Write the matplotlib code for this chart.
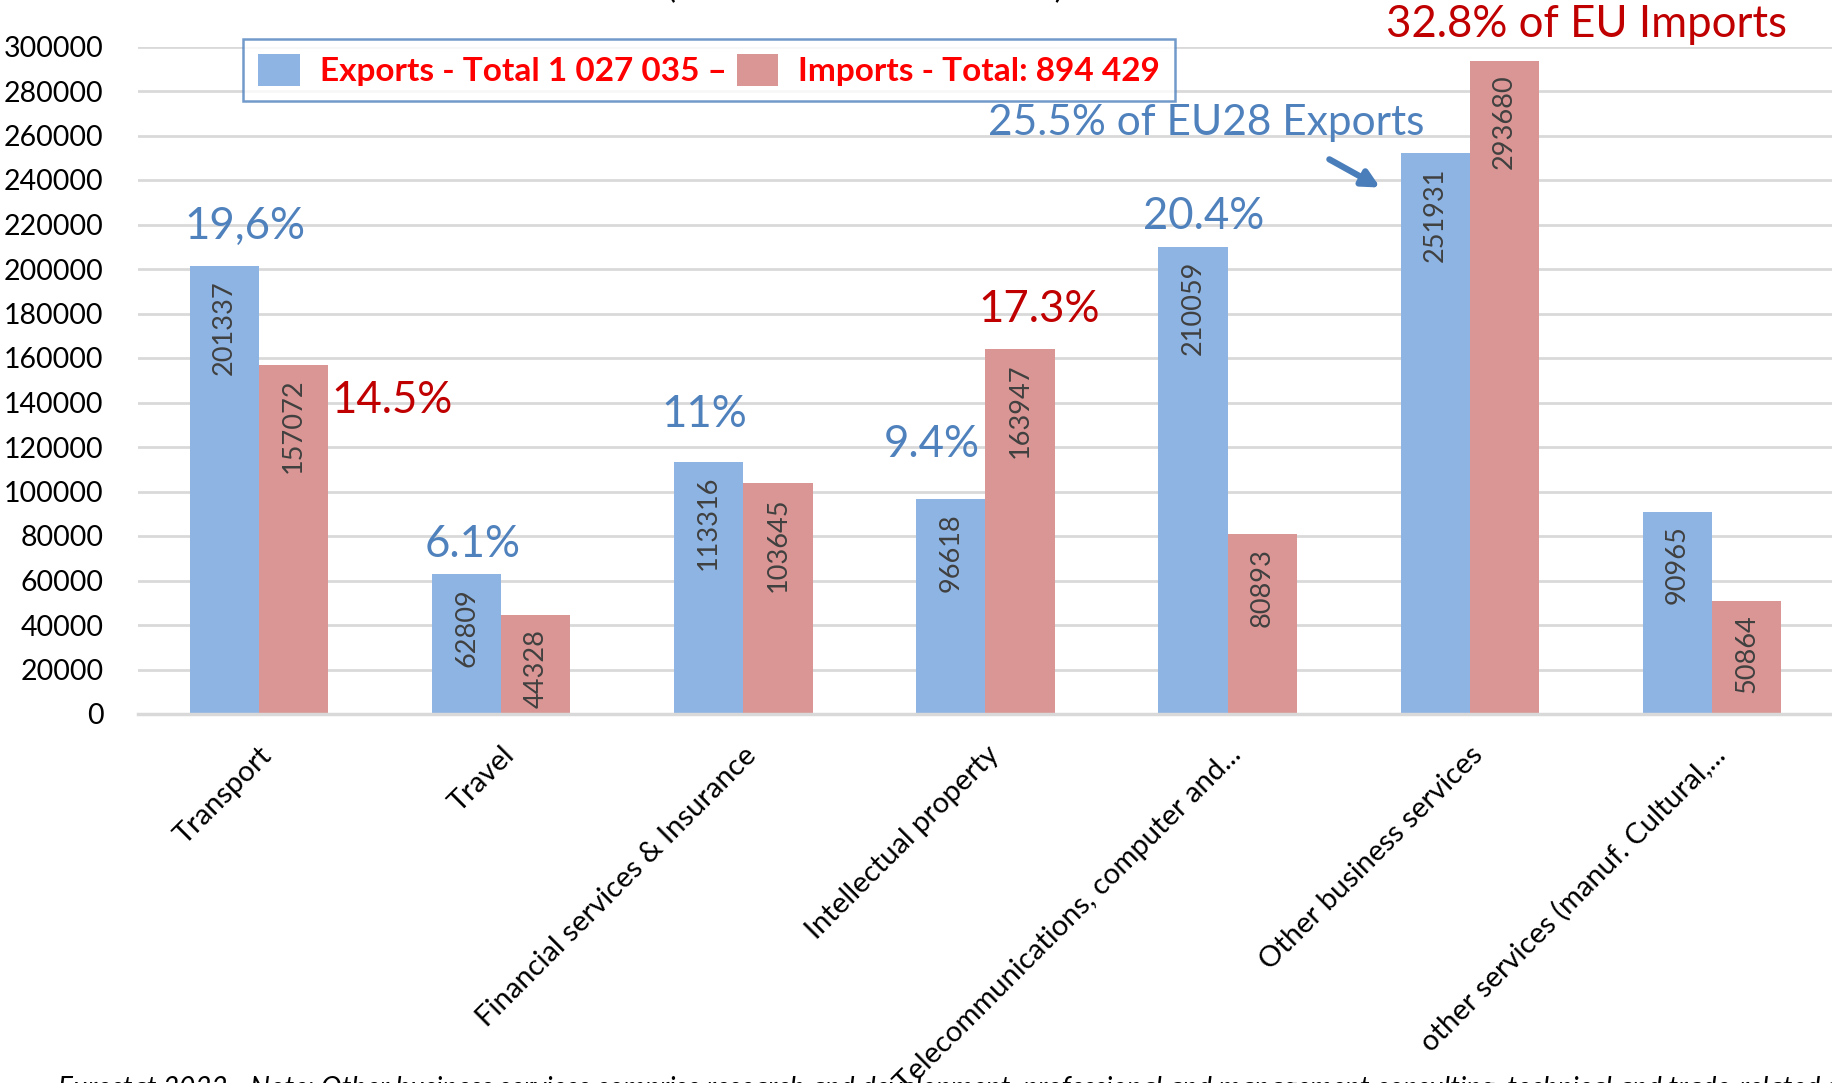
import matplotlib
matplotlib.use("Agg")
import matplotlib.pyplot as plt
import numpy as np

plt.rcParams['font.family'] = ['Lato', 'DejaVu Sans']

# data
categories = ["Transport", "Travel", "Financial services & Insurance", "Intellectual property",
              "Telecommunications, computer and...", "Other business services",
              "other services (manuf. Cultural,..."]
exports = [201337, 62809, 113316, 96618, 210059, 251931, 90965]
imports = [157072, 44328, 103645, 163947, 80893, 293680, 50864]
yticks = list(range(0, 300001, 20000))

blue = "#8EB4E3"
red = "#D99694"
blue_txt = "#4F81BD"
red_txt = "#C00000"

fig = plt.figure(figsize=(18.33, 10.83), dpi=100)
ax = fig.add_axes([138 / 1833, 1 - 714 / 1083, 1 - 138 / 1833, (714 - 46.5) / 1083])

x = np.arange(len(categories))
w = 0.286
b1 = ax.bar(x - w / 2, exports, w, color=blue, label="Exports - Total 1 027 035 \u2013", zorder=2)
b2 = ax.bar(x + w / 2, imports, w, color=red, label="Imports - Total: 894 429", zorder=2)

# value labels inside the bars
for bars, vals in [(b1, exports), (b2, imports)]:
    for r, v in zip(bars, vals):
        ax.annotate(str(v), (r.get_x() + r.get_width() / 2, v), xytext=(0, -10),
                    textcoords="offset points", rotation=90, ha="center", va="top",
                    fontsize=19.5, color="#404040", zorder=3)

ax.set_xlim(-0.5, len(categories) - 0.5)
ax.set_ylim(0, 300000)
ax.set_yticks(yticks)
ax.set_yticklabels([str(t) for t in yticks], fontsize=20.5)
ax.yaxis.grid(True, color="#D9D9D9", linewidth=2, zorder=0)
ax.set_axisbelow(True)
ax.tick_params(length=0, pad=25)
ax.tick_params(axis="x", pad=20)
for s in ["top", "right", "left"]:
    ax.spines[s].set_visible(False)
ax.spines["bottom"].set_color("#D9D9D9")
ax.spines["bottom"].set_linewidth(2.5)

ax.set_xticks(x)
ax.set_xticklabels(categories, rotation=45, ha="right", va="top", rotation_mode="anchor",
                   fontsize=21)

# percentage notes
ax.text(-0.06, 219000, "19,6%", color=blue_txt, fontsize=31.5, ha="center", va="center")
ax.text(0.55, 140700, "14.5%", color=red_txt, fontsize=31.5, ha="center", va="center")
ax.text(0.88, 76000, "6.1%", color=blue_txt, fontsize=31.5, ha="center", va="center")
ax.text(1.84, 134400, "11%", color=blue_txt, fontsize=31.5, ha="center", va="center")
ax.text(2.78, 121300, "9.4%", color=blue_txt, fontsize=31.5, ha="center", va="center")
ax.text(3.22, 182000, "17.3%", color=red_txt, fontsize=31.5, ha="center", va="center")
ax.text(3.90, 223400, "20.4%", color=blue_txt, fontsize=31.5, ha="center", va="center")
ax.text(3.91, 265600, "25.5% of EU28 Exports", color=blue_txt, fontsize=30.5, ha="center", va="center")
ax.text(5.48, 309700, "32.8% of EU Imports", color=red_txt, fontsize=31.5, ha="center", va="center",
        clip_on=False)
ax.annotate("", xy=(4.64, 236000), xytext=(4.41, 249900),
            arrowprops=dict(arrowstyle="-|>", color="#4A7EBB", lw=4.5, mutation_scale=25))

leg = ax.legend(loc="upper left", bbox_to_anchor=(243 / 1833, 1 - 39 / 1083),
                bbox_transform=fig.transFigure, ncol=2, frameon=True, fancybox=False,
                prop={"weight": "bold", "size": 24}, labelcolor="#FF0000",
                handlelength=1.25, handleheight=1.1, handletextpad=0.6,
                columnspacing=0.3, borderpad=0.45, borderaxespad=0)
leg.get_frame().set_edgecolor(blue_txt)
leg.get_frame().set_linewidth(1.8)

# title and source, cut by the image edges as in the original
fig.text(865 / 1833, 1 + 2 / 1083, "(EU28 2021 \u2013 Million EUR)",
         fontsize=24, ha="center", va="baseline")
fig.text(58 / 1833, 1 - 1076 / 1083,
         "Eurostat 2022 - Note: Other business services comprise research and development, "
         "professional and management consulting, technical and trade-related services",
         fontsize=20, style="italic", ha="left", va="top")

fig.savefig("out.png", dpi=100)
